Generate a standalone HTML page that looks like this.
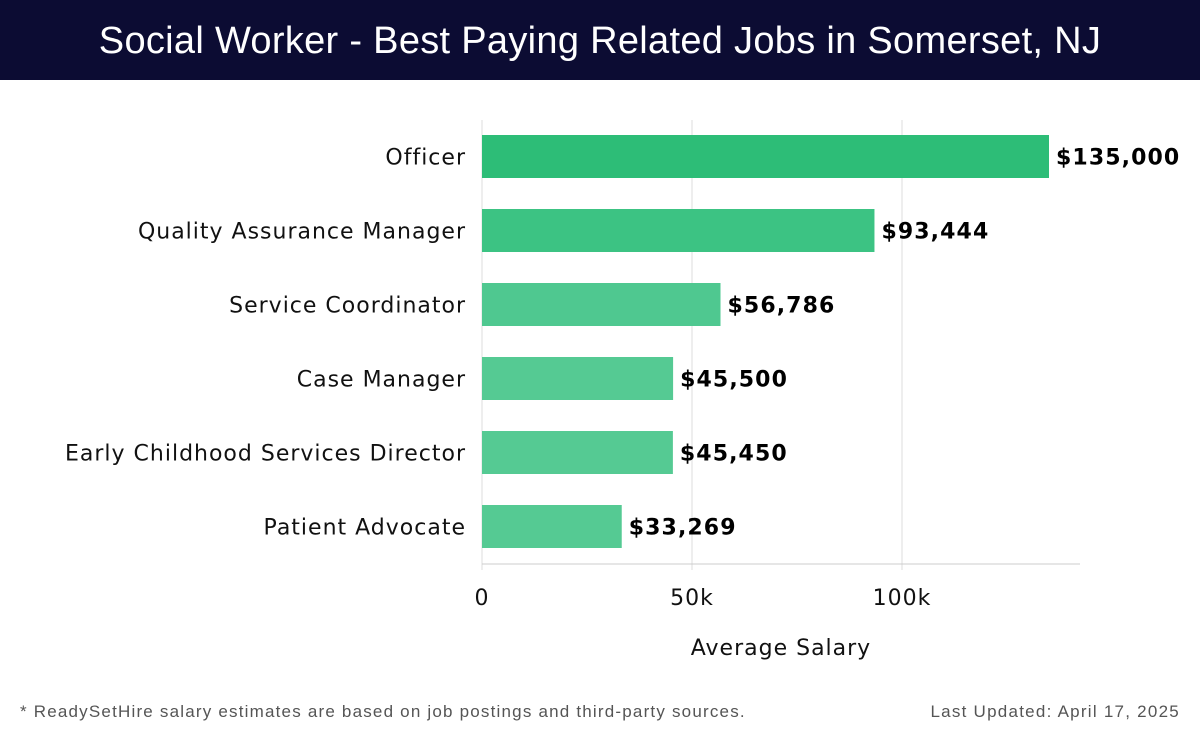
<!DOCTYPE html>
<html><head><meta charset="utf-8"><style>
body{margin:0;width:1200px;height:740px;background:#fff;overflow:hidden;font-family:"DejaVu Sans","Liberation Sans",sans-serif}
#hdr{position:absolute;left:0;top:0;width:1200px;height:80px;background:#0c0c33;color:#fff;font-family:"Liberation Sans",sans-serif;font-size:38px;letter-spacing:0.3px;text-align:center;line-height:82px}
.ft{position:absolute;top:702px;font-family:"Liberation Sans",sans-serif;font-size:17px;letter-spacing:1.2px;color:#555}
</style></head><body>
<div id="hdr">Social Worker - Best Paying Related Jobs in Somerset, NJ</div>
<svg id="c" width="1200" height="740" style="position:absolute;left:0;top:0"></svg>
<div class="ft" style="left:20px">* ReadySetHire salary estimates are based on job postings and third-party sources.</div>
<div class="ft" style="right:20px;letter-spacing:1.25px">Last Updated: April 17, 2025</div>
<script>
const categories=["Officer","Quality Assurance Manager","Service Coordinator","Case Manager","Early Childhood Services Director","Patient Advocate"];
const values=[135000,93444,56786,45500,45450,33269];
const valueLabels=["$135,000","$93,444","$56,786","$45,500","$45,450","$33,269"];
const ticks=[0,50000,100000];
const tickLabels=["0","50k","100k"];
const colors=["#2dbd77","#3cc383","#4fc890","#55ca93","#55ca93","#55ca93"];
const svg=document.getElementById('c');const NS='http://www.w3.org/2000/svg';
const x0=482,k=420/100000,yTop=120,yBot=564,first=135,pitch=74,bh=43;
const X=v=>x0+v*k;const Y=i=>first+i*pitch;
function mk(t,a,txt){const e=document.createElementNS(NS,t);for(const n in a)e.setAttribute(n,a[n]);if(txt!=null)e.textContent=txt;svg.appendChild(e);return e;}
ticks.forEach((t,i)=>{
 const g=mk('line',{x1:X(t),x2:X(t),y1:yTop,y2:yBot+6,stroke:'#ddd','stroke-width':1});
 
 
 const l=mk('text',{x:X(t),y:605,'text-anchor':'middle','font-size':22,'letter-spacing':1,fill:'#111'},tickLabels[i]);
 
 
});
const ax=mk('line',{x1:x0,x2:1080,y1:yBot,y2:yBot,stroke:'#ccc','stroke-width':1});


categories.forEach((c,i)=>{
 const r=mk('rect',{x:x0,y:Y(i),width:X(values[i])-x0,height:bh,fill:colors[i]});
 
 
 const cl=mk('text',{x:466,y:Y(i)+bh/2+8,'text-anchor':'end','font-size':22,'letter-spacing':1,fill:'#111'},c);
 
 
 const vl=mk('text',{x:X(values[i])+7,y:Y(i)+bh/2+8,'font-size':22,'letter-spacing':1.1,'font-weight':'bold',fill:'#000'},valueLabels[i]);
 
 
});
const xt=mk('text',{x:781,y:655,'text-anchor':'middle','font-size':22,'letter-spacing':1,fill:'#111'},'Average Salary');


</script>
</body></html>
